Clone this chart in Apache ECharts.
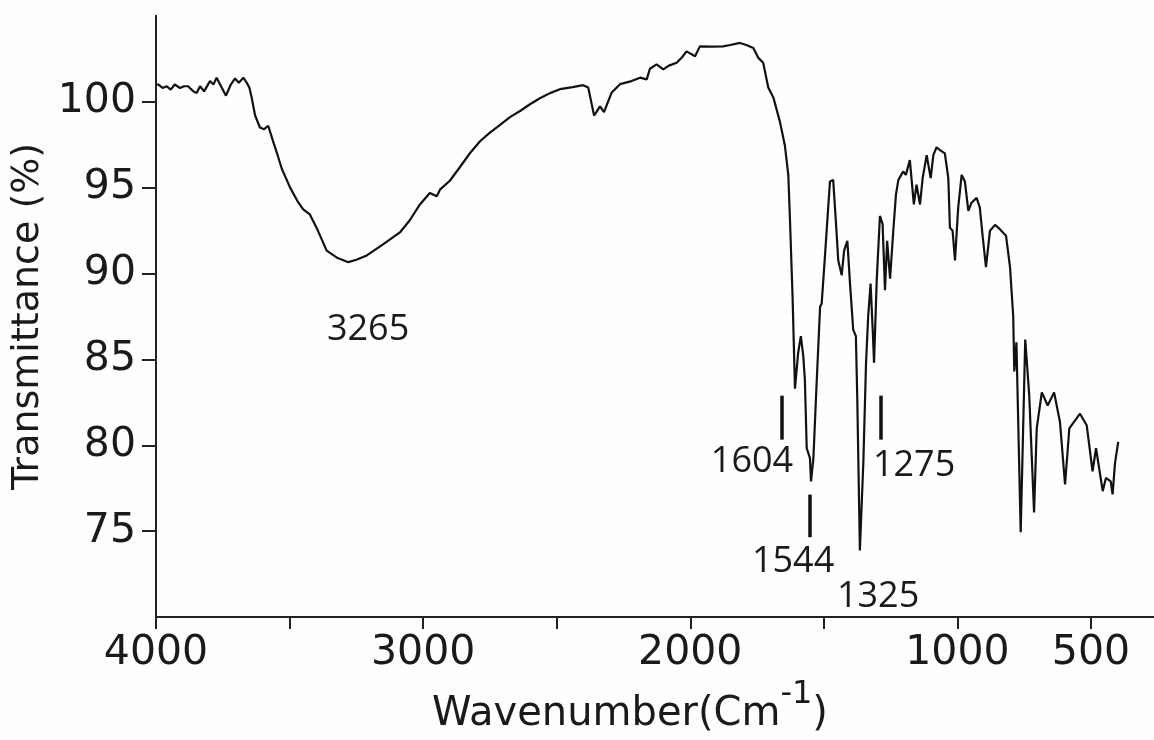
<!DOCTYPE html>
<html>
<head>
<meta charset="utf-8">
<script src="https://cdn.jsdelivr.net/npm/echarts@6/dist/echarts.min.js"></script>
<style>
html,body{margin:0;padding:0;background:#fefefc;}
#c{width:1154px;height:740px;}
</style>
</head>
<body>
<div id="c"></div>
<script>
// Wavenumber (cm-1) and transmittance (%)
const wavenumber = [
4000,3991,3975,3960,3945,3930,3910,3895,3880,3860,3848,3835,3820,3798,3785,3773,3760,3738,3720,3704,3690,3673,3660,3650,3642,3629,3611,3595,3580,3561,3545,3529,3498,3470,3449,3424,3399,3361,3320,3280,3250,3211,3150,3087,3050,3012,2975,2949,2937,2900,2862,2825,2787,2750,2712,2675,2637,2600,2563,2525,2488,2440,2401,2382,2360,2338,2323,2294,2263,2220,2188,2163,2151,2126,2101,2080,2051,2030,2014,1982,1964,1920,1877,1850,1814,1790,1764,1745,1727,1708,1689,1664,1646,1633,1627,1617,1608,1604,1596,1586,1577,1571,1564,1552,1548,1539,1529,1514,1508,1496,1487,1477,1465,1455,1446,1433,1424,1412,1402,1390,1380,1375,1365,1352,1342,1334,1325,1317,1312,1302,1290,1280,1271,1263,1252,1240,1230,1221,1203,1193,1178,1163,1153,1140,1130,1115,1100,1090,1078,1065,1047,1034,1028,1018,1009,997,984,972,959,947,928,916,905,893,878,859,841,818,803,791,787,779,763,746,731,713,703,684,662,638,616,597,581,541,516,494,481,456,444,426,419,410,398
];
const transmittance = [
101.0,101.0,100.8,100.9,100.7,101.0,100.8,100.9,100.9,100.6,100.5,100.9,100.6,101.2,101.0,101.4,101.0,100.35,101.0,101.35,101.1,101.4,101.1,100.8,100.25,99.2,98.5,98.4,98.6,97.66,96.9,96.1,95.0,94.2,93.73,93.44,92.67,91.33,90.9,90.66,90.8,91.05,91.7,92.39,93.1,94.02,94.69,94.5,94.88,95.4,96.2,97.0,97.7,98.2,98.65,99.1,99.46,99.85,100.2,100.5,100.73,100.85,100.96,100.83,99.19,99.73,99.39,100.54,101.02,101.2,101.4,101.3,101.92,102.17,101.88,102.1,102.27,102.6,102.93,102.65,103.22,103.2,103.22,103.3,103.42,103.3,103.13,102.55,102.27,100.83,100.25,98.81,97.47,95.74,93.25,88.64,83.3,83.2,85.39,86.35,85.2,83.85,79.83,79.25,77.9,79.25,82.9,88.07,88.26,90.95,93.06,95.36,95.45,93.06,90.76,89.9,91.33,91.9,89.41,86.73,86.35,82.9,73.88,79.06,84.8,87.5,89.41,86.73,84.8,89.6,93.35,92.87,89.03,91.9,89.7,92.49,94.59,95.45,95.94,95.74,96.6,94.02,95.17,94.02,95.55,96.89,95.55,96.89,97.35,97.18,96.99,95.55,92.67,92.49,90.76,93.83,95.74,95.36,93.64,94.12,94.4,93.83,92.1,90.37,92.49,92.83,92.58,92.2,90.37,87.5,84.3,86.0,74.94,86.15,82.9,76.09,80.98,83.08,82.32,83.08,81.36,77.72,80.98,81.84,81.17,78.48,79.83,77.33,78.1,77.9,77.14,78.96,80.2
];
const xTicks = [4000,3500,3000,2500,2000,1500,1000,500];
const xLabels = [4000,3000,2000,1000,500];
const yTicks = [75,80,85,90,95,100];
// peak labels: wavenumber, transmittance, text
const peakLabelWn = [3206,1769,1615,1297,1162];
const peakLabelT = [86.75,79.04,73.2,71.16,78.8];
const peakLabelText = ['3265','1604','1544','1325','1275'];
// marker bars: wavenumber, top, bottom
const barWn = [1657,1552,1287];
const barTop = [82.89,77.13,82.89];
const barBottom = [80.33,74.65,80.33];

const chart = echarts.init(document.getElementById('c'), null, {renderer:'canvas'});
const axisFont = 'DejaVu Sans';
const option = {
  backgroundColor:'#fefefc',
  animation:false,
  grid:{left:156, right:0, top:15.8, bottom:115.8, containLabel:false},
  xAxis:{
    type:'value', inverse:true, min:264, max:4000,
    axisLine:{show:true, lineStyle:{color:'#222', width:2}},
    axisTick:{show:true, length:12, customValues:xTicks, lineStyle:{color:'#222', width:2}},
    axisLabel:{show:true, customValues:xLabels, formatter:v=>String(v), fontFamily:axisFont, fontSize:41, color:'#1a1a1a', margin:16},
    splitLine:{show:false},
    name:'{a|Wavenumber(Cm}{s|-1}{a|)}{p|}',
    nameLocation:'middle', nameGap:58,
    nameTextStyle:{
      rich:{
        a:{fontFamily:axisFont, fontSize:40, color:'#1a1a1a', lineHeight:56, verticalAlign:'bottom'},
        s:{fontFamily:axisFont, fontSize:32, color:'#1a1a1a', lineHeight:34, verticalAlign:'top'},
        p:{width:50}
      }
    }
  },
  yAxis:{
    type:'value', min:70, max:105,
    axisLine:{show:true, lineStyle:{color:'#222', width:2}},
    axisTick:{show:true, length:14, customValues:yTicks, lineStyle:{color:'#222', width:2}},
    axisLabel:{show:true, customValues:yTicks, formatter:v=>String(v), fontFamily:axisFont, fontSize:41, color:'#1a1a1a', margin:20},
    splitLine:{show:false},
    name:'Transmittance (%)', nameLocation:'middle', nameRotate:90, nameGap:100,
    nameTextStyle:{fontFamily:axisFont, fontSize:38, color:'#1a1a1a'}
  },
  series:[
    {
      type:'line', name:'spectrum', showSymbol:false, symbol:'none',
      data: wavenumber.map((w,i)=>[w, transmittance[i]]),
      lineStyle:{color:'#111', width:2.2},
      markLine:{
        silent:true, symbol:['none','none'],
        label:{show:false},
        lineStyle:{color:'#111', width:3.5, type:'solid'},
        data: barWn.map((w,i)=>[{coord:[w,barTop[i]]},{coord:[w,barBottom[i]]}])
      },
      z:3
    },
    {
      type:'scatter', name:'labels', symbol:'circle', symbolSize:2,
      itemStyle:{color:'rgba(0,0,0,0)'},
      data: peakLabelWn.map((w,i)=>({value:[w, peakLabelT[i]], name:peakLabelText[i]})),
      label:{show:true, position:'inside', formatter:p=>p.name, fontFamily:'Open Sans', fontSize:36, color:'#1a1a1a', opacity:1},
      labelLayout:{hideOverlap:false},
      silent:true
    }
  ]
};
chart.setOption(option);
</script>
</body>
</html>
